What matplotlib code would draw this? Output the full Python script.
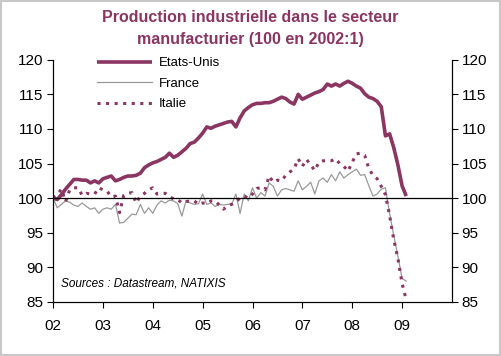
import numpy as np
import matplotlib.pyplot as plt

# monthly index, 100 = January 2002 (Jan 2002 .. Feb 2009)
etats_unis = [100, 99.8, 100.5, 101.3, 102, 102.7, 102.7, 102.6, 102.6, 102.2, 102.5, 102.2,
              102.8, 103, 103.2, 102.5, 102.7, 103, 103.2, 103.2, 103.3, 103.6, 104.4, 104.8,
              105.1, 105.3, 105.6, 105.9, 106.5, 105.9, 106.2, 106.7, 107.2, 107.9, 108.1, 108.7,
              109.4, 110.3, 110.1, 110.4, 110.6, 110.8, 111, 111.1, 110.3, 111.6, 112.6, 113.1,
              113.5, 113.7, 113.7, 113.8, 113.8, 114, 114.3, 114.6, 114.4, 113.9, 113.6, 115,
              114.3, 114.6, 114.9, 115.2, 115.4, 115.7, 116.5, 116.2, 116.5, 116.2, 116.6, 116.9,
              116.6, 116.2, 115.9, 115.1, 114.6, 114.4, 114, 113.2, 109, 109.3, 107.3, 104.8,
              101.8, 100.3]
france = [100, 98.6, 99.1, 99.6, 99.4, 99.0, 98.8, 99.3, 98.8, 98.4, 98.6, 97.8,
          98.4, 98.6, 98.4, 99.1, 96.4, 96.5, 97.1, 97.7, 97.6, 99.1, 97.8, 98.6,
          97.8, 99.0, 99.6, 99.3, 99.7, 99.6, 99.2, 97.4, 99.6, 99.3, 99.1, 99.2,
          100.6, 99.1, 99.3, 98.8, 99.1, 99.0, 99.1, 99.1, 100.6, 97.8, 100.6, 99.6,
          101.5, 100.0, 100.8, 100.3, 102.2, 101.7, 100.3, 101.2, 101.4, 101.2, 101.0, 102.5,
          101.2, 101.7, 102.3, 100.6, 102.5, 102.9, 102.3, 103.4, 102.5, 103.8, 102.9, 103.4,
          103.8, 104.2, 103.3, 103.4, 101.8, 100.3, 100.6, 101.3, 101.5, 97.8, 94.6, 91.6,
          88.4, 88.0]
italie = [100, 100.5, 101.3, 99.5, 101.2, 101.5, 101.5, 100.4, 100.7, 100.6, 100.6, 101.5,
          101.2, 101.0, 100.2, 100.3, 97.9, 100.4, 100.7, 100.8, 99.3, 100.3, 100.7, 101.2,
          101.5, 100.6, 100.7, 100.7, 100.2, 99.9, 99.8, 99.3, 99.5, 99.6, 99.6, 99.1,
          99.3, 99.2, 99.6, 99.6, 99.0, 98.4, 98.9, 99.1, 99.5, 100.0, 100.3, 100.0,
          100.6, 101.4, 101.5, 101.2, 103.2, 102.3, 102.6, 102.5, 103.3, 103.8, 104.2, 105.7,
          104.6, 105.6, 104.8, 104.0, 105.2, 105.4, 105.4, 105.4, 105.7, 105.0, 104.6, 103.9,
          105.2, 106.4, 106.5, 106.2, 104.3, 103.3, 102.8, 101.7, 100.5, 97.5, 94.0, 91.3,
          87.7, 85.3]
year_labels = ['02', '03', '04', '05', '06', '07', '08', '09']

maroon = '#8B3562'
months = 2002 + np.arange(len(etats_unis)) / 12

plt.rcParams['font.family'] = ['Liberation Sans', 'DejaVu Sans']

fig = plt.figure(figsize=(5.01, 3.56), dpi=100)
ax = fig.add_axes([0.106, 0.152, 0.796, 0.680])

ax.plot(months, etats_unis, color=maroon, lw=2.6, label='Etats-Unis', solid_capstyle='butt')
ax.plot(months, france, color='#999999', lw=0.9, label='France')
ax.plot(months, italie, color=maroon, lw=2.2, linestyle=(0, (1.0, 1.8)), label='Italie')
ax.axhline(100, color='black', lw=0.9)

ax.set_xlim(2002, 2010)
ax.set_ylim(85, 120)
ax.set_xticks(range(2002, 2010))
ax.set_xticklabels(year_labels)
ax.set_yticks(range(85, 121, 5))
ax.spines['top'].set_visible(False)
ax.tick_params(axis='both', direction='out', length=4, width=0.8, labelsize=11, pad=3)
ax.tick_params(axis='x', pad=8)

ax2 = ax.twinx()
ax2.set_ylim(85, 120)
ax2.set_yticks(range(85, 121, 5))
ax2.spines['top'].set_visible(False)
ax2.tick_params(axis='y', direction='out', length=4, width=0.8, labelsize=11, pad=3)

ax.legend(loc='upper left', bbox_to_anchor=(0.08, 1.06), frameon=False, fontsize=9.5,
          handlelength=4.2, handletextpad=0.5, labelspacing=0.62)

ax.text(0.02, 0.05, 'Sources : Datastream, NATIXIS', transform=ax.transAxes,
        fontsize=8.5, style='italic', va='bottom')

fig.text(0.5, 0.972, 'Production industrielle dans le secteur\nmanufacturier (100 en 2002:1)',
         ha='center', va='top', fontsize=11.5, fontweight='bold', color=maroon, linespacing=1.55)

fig.patches.append(plt.Rectangle((0.002, 0.003), 0.996, 0.994, transform=fig.transFigure,
                                 fill=False, edgecolor='#c8c8c8', lw=1.5))

plt.savefig('out.png', dpi=100)
